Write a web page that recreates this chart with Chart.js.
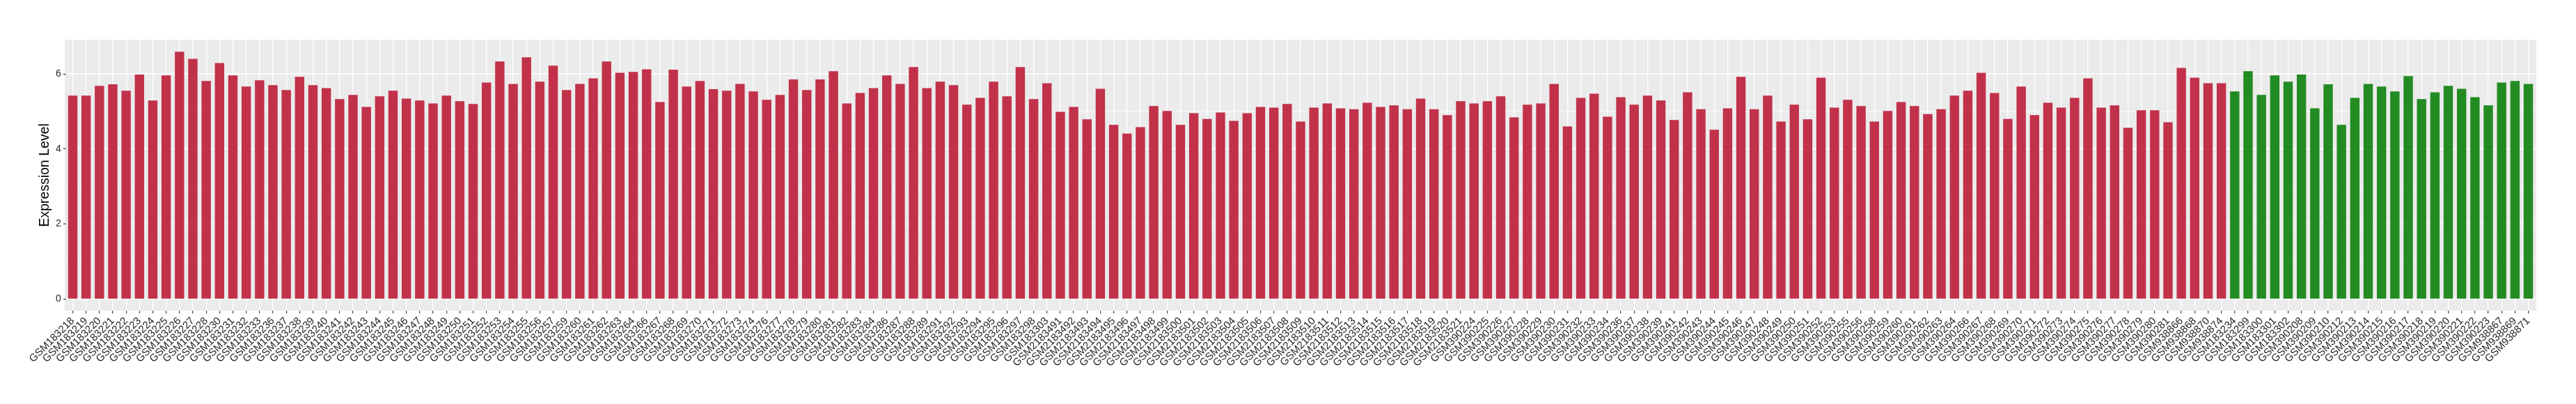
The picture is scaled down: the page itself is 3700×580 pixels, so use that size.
<!DOCTYPE html>
<html>
<head>
<meta charset="utf-8">
<script src="https://cdn.jsdelivr.net/npm/chart.js@4/dist/chart.umd.min.js"></script>
<style>
  html, body { margin: 0; padding: 0; background: #ffffff; }
  #wrap { width: 3700px; height: 580px; position: relative; }
</style>
</head>
<body>
<div id="wrap"><canvas id="c" width="3700" height="580"></canvas></div>
<script>
// ---- data ----
const redSamples = [
  "GSM183218","GSM183219","GSM183220","GSM183221","GSM183222","GSM183223","GSM183224","GSM183225","GSM183226","GSM183227",
  "GSM183228","GSM183230","GSM183231","GSM183232","GSM183233","GSM183236","GSM183237","GSM183238","GSM183239","GSM183240",
  "GSM183241","GSM183242","GSM183243","GSM183244","GSM183245","GSM183246","GSM183247","GSM183248","GSM183249","GSM183250",
  "GSM183251","GSM183252","GSM183253","GSM183254","GSM183255","GSM183256","GSM183257","GSM183259","GSM183260","GSM183261",
  "GSM183262","GSM183263","GSM183264","GSM183266","GSM183267","GSM183268","GSM183269","GSM183270","GSM183271","GSM183272",
  "GSM183273","GSM183274","GSM183276","GSM183277","GSM183278","GSM183279","GSM183280","GSM183281","GSM183282","GSM183283",
  "GSM183284","GSM183286","GSM183287","GSM183288","GSM183289","GSM183291","GSM183292","GSM183293","GSM183294","GSM183295",
  "GSM183296","GSM183297","GSM183298","GSM183303",
  "GSM2183491","GSM2183492","GSM2183493","GSM2183494","GSM2183495","GSM2183496","GSM2183497","GSM2183498","GSM2183499","GSM2183500",
  "GSM2183501","GSM2183502","GSM2183503","GSM2183504","GSM2183505","GSM2183506","GSM2183507","GSM2183508","GSM2183509","GSM2183510",
  "GSM2183511","GSM2183512","GSM2183513","GSM2183514","GSM2183515","GSM2183516","GSM2183517","GSM2183518","GSM2183519","GSM2183520",
  "GSM2183521",
  "GSM390224","GSM390225","GSM390226","GSM390227","GSM390228","GSM390229","GSM390230","GSM390231","GSM390232","GSM390233",
  "GSM390234","GSM390236","GSM390237","GSM390238","GSM390239","GSM390241","GSM390242","GSM390243","GSM390244","GSM390245",
  "GSM390246","GSM390247","GSM390248","GSM390249","GSM390250","GSM390251","GSM390252","GSM390253","GSM390255","GSM390256",
  "GSM390258","GSM390259","GSM390260","GSM390261","GSM390262","GSM390263","GSM390264","GSM390266","GSM390267","GSM390268",
  "GSM390269","GSM390270","GSM390271","GSM390272","GSM390273","GSM390274","GSM390275","GSM390276","GSM390277","GSM390278",
  "GSM390279","GSM390280","GSM390281",
  "GSM938866","GSM938868","GSM938870","GSM938874"
];
const redValues = [
  5.42, 5.42, 5.68, 5.72, 5.55, 5.98, 5.29, 5.96, 6.59, 6.40, 5.81, 6.29, 5.96, 5.66, 5.83, 5.70, 5.57, 5.92, 5.70, 5.62, 5.33, 5.44, 5.12, 5.40, 5.55, 5.34, 5.29, 5.21, 5.42, 5.27, 5.20,
  5.77, 6.33, 5.73, 6.44, 5.79, 6.22, 5.57, 5.73, 5.88, 6.33, 6.03, 6.05, 6.12, 5.25, 6.11, 5.66, 5.81, 5.59, 5.55, 5.73, 5.53, 5.31, 5.44, 5.85, 5.57, 5.85, 6.07, 5.21, 5.49, 5.62, 5.96,
  5.73, 6.18, 5.62, 5.79, 5.70, 5.18, 5.36, 5.79, 5.40, 6.18, 5.33, 5.75, 4.99, 5.12, 4.79, 5.60, 4.64, 4.41, 4.58, 5.14, 5.01, 4.64, 4.95, 4.80, 4.97, 4.75, 4.95, 5.12, 5.10, 5.20, 4.73,
  5.10, 5.21, 5.08, 5.06, 5.23, 5.12, 5.16, 5.06, 5.34, 5.06, 4.90, 5.27, 5.21, 5.27, 5.40, 4.84, 5.18, 5.21, 5.73, 4.60, 5.36, 5.47, 4.86, 5.38, 5.18, 5.42, 5.29, 4.77, 5.51, 5.06, 4.51,
  5.08, 5.92, 5.06, 5.42, 4.73, 5.18, 4.79, 5.90, 5.10, 5.31, 5.14, 4.73, 5.01, 5.25, 5.14, 4.93, 5.06, 5.42, 5.55, 6.03, 5.49, 4.80, 5.66, 4.90, 5.23, 5.10, 5.36, 5.88, 5.10, 5.16,
  4.56, 5.03, 5.03, 4.71, 6.16, 5.90, 5.75, 5.75
];
const greenSamples = [
  "GSM183234","GSM183299","GSM183300","GSM183301","GSM183302","GSM390208","GSM390209","GSM390210","GSM390212","GSM390213",
  "GSM390214","GSM390215","GSM390216","GSM390217","GSM390218","GSM390219","GSM390220","GSM390221","GSM390222","GSM390223",
  "GSM938867","GSM938869","GSM938871"
];
const greenValues = [
  5.53, 6.07, 5.44, 5.96, 5.79, 5.98, 5.08, 5.72, 4.64, 5.36,
  5.73, 5.66, 5.53, 5.94, 5.33, 5.51, 5.68, 5.60, 5.38, 5.16,
  5.77, 5.81, 5.73
];
const yMajorTicks = [0, 2, 4, 6];
const yMinorTicks = [1, 3, 5];
const yTitle = "Expression Level";

const RED = "#C2314A";
const GREEN = "#228B22";

// ---- build ----
const categories = redSamples.concat(greenSamples);
const values = redValues.concat(greenValues);
const colors = redSamples.map(() => RED).concat(greenSamples.map(() => GREEN));

const panelPlugin = {
  id: "panel",
  beforeDraw(chart) {
    const { ctx, chartArea: a, scales } = chart;
    const step = (a.right - a.left) / categories.length;
    const ext = step * 0.1;
    const L = a.left - ext, R = a.right + ext;
    ctx.save();
    ctx.fillStyle = "#EBEBEB";
    ctx.fillRect(L, a.top, R - L, a.bottom - a.top);
    ctx.strokeStyle = "#FFFFFF";
    for (const v of yMinorTicks) {
      const py = scales.y.getPixelForValue(v);
      ctx.lineWidth = 0.8;
      ctx.beginPath(); ctx.moveTo(L, py); ctx.lineTo(R, py); ctx.stroke();
    }
    for (const v of yMajorTicks) {
      const py = scales.y.getPixelForValue(v);
      ctx.lineWidth = 1.5;
      ctx.beginPath(); ctx.moveTo(L, py); ctx.lineTo(R, py); ctx.stroke();
    }
    ctx.restore();
  }
};

new Chart(document.getElementById("c"), {
  type: "bar",
  data: {
    labels: categories,
    datasets: [{
      data: values,
      backgroundColor: colors,
      borderWidth: 0,
      barPercentage: 0.7,
      categoryPercentage: 1.0
    }]
  },
  options: {
    responsive: false,
    animation: false,
    devicePixelRatio: 1,
    layout: { padding: { top: 57, right: 58.9, bottom: 0, left: 0 } },
    plugins: { legend: { display: false }, tooltip: { enabled: false } },
    scales: {
      x: {
        type: "category",
        offset: true,
        grid: {
          offset: false,
          color: "#FFFFFF",
          lineWidth: 1.3,
          drawTicks: true,
          tickLength: 4,
          tickColor: "#333333",
          tickWidth: 1.1
        },
        border: { display: false },
        ticks: {
          autoSkip: false,
          maxRotation: 45,
          minRotation: 45,
          padding: 2,
          color: "#262626",
          font: { family: "'Liberation Sans', Arial, sans-serif", size: 15 }
        },
        afterFit: (s) => { s.height = 134; }
      },
      y: {
        min: -0.31,
        max: 6.91,
        afterBuildTicks: (s) => { s.ticks = yMajorTicks.map(v => ({ value: v })); },
        grid: {
          drawOnChartArea: false,
          drawTicks: true,
          tickLength: 4,
          tickColor: "#333333",
          tickWidth: 1.1
        },
        border: { display: false },
        ticks: {
          padding: 3,
          color: "#262626",
          font: { family: "'Liberation Sans', Arial, sans-serif", size: 14 },
          callback: (v) => String(v)
        },
        title: {
          display: true,
          text: yTitle,
          color: "#000000",
          padding: { top: 53, bottom: 0 },
          font: { family: "'Liberation Sans', Arial, sans-serif", size: 19.5 }
        },
        afterFit: (s) => { s.width = 94.9; }
      }
    }
  },
  plugins: [panelPlugin]
});
</script>
</body>
</html>
